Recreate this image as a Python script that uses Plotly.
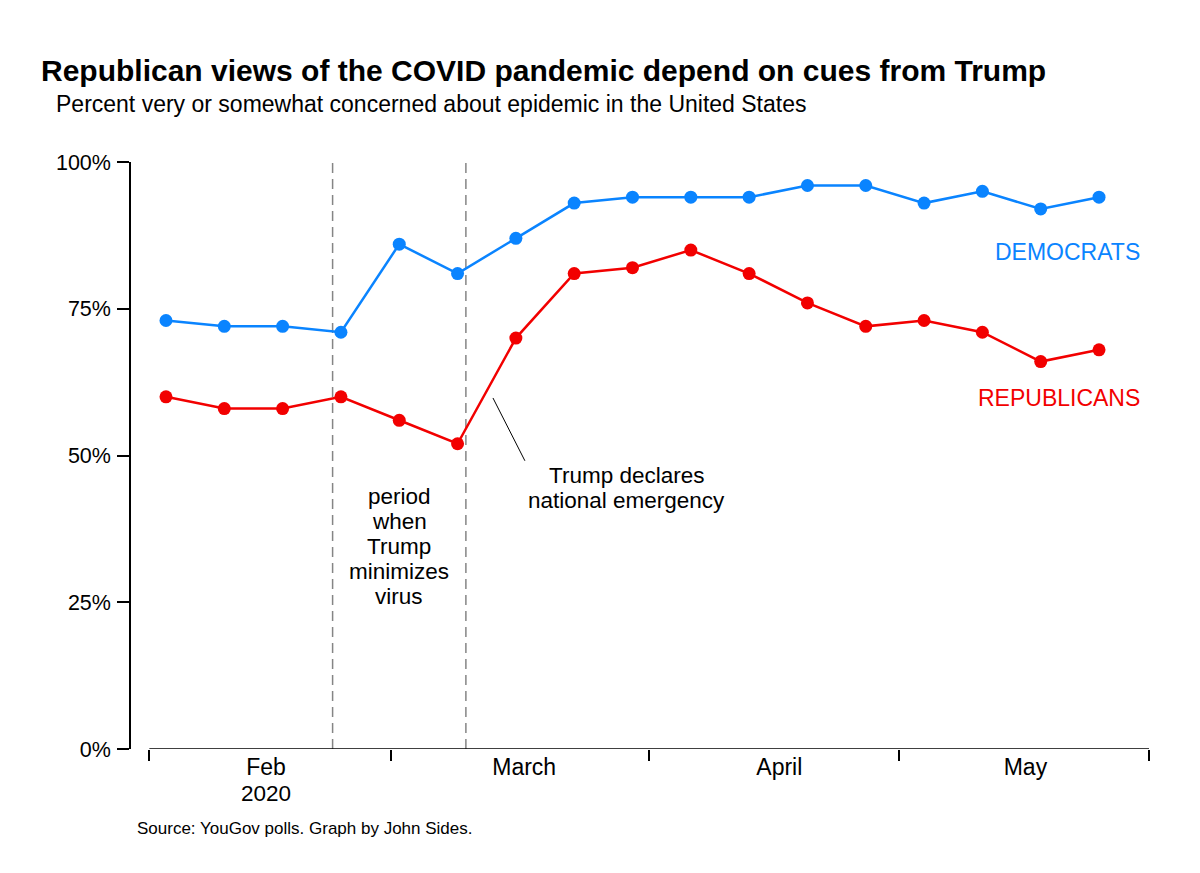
import plotly.graph_objects as go
import pandas as pd

dates = pd.date_range("2020-02-03", periods=17, freq="7D")
democrats = [73, 72, 72, 71, 86, 81, 87, 93, 94, 94, 94, 96, 96, 93, 95, 92, 94]
republicans = [60, 58, 58, 60, 56, 52, 70, 81, 82, 85, 81, 76, 72, 73, 71, 66, 68]

month_starts = ["2020-02-01", "2020-03-01", "2020-04-01", "2020-05-01", "2020-05-31"]
month_label_pos = ["2020-02-15", "2020-03-17", "2020-04-16 15:00", "2020-05-16 04:00"]
month_labels = ["Feb", "March", "April", "May"]
y_ticks = [0, 25, 50, 75, 100]
y_labels = ["0%", "25%", "50%", "75%", "100%"]
period_lines = ["2020-02-23", "2020-03-10"]

BLUE = "#0a84ff"
RED = "#f20000"
FONT = "Liberation Sans, Arial, Helvetica, sans-serif"

OFF = 8  # page body margin
W, H = 1200, 873
L, R, T, B = 131 - OFF, 1149 - OFF, 162 - OFF, 749 - OFF


def px_x(px):
    return (px - OFF - L) / (R - L)


def px_y(py):
    return (B - (py - OFF)) / (B - T)


fig = go.Figure()
fig.add_trace(go.Scatter(x=dates, y=democrats, mode="lines+markers",
                         line=dict(color=BLUE, width=2.5),
                         marker=dict(color=BLUE, size=13), showlegend=False))
fig.add_trace(go.Scatter(x=dates, y=republicans, mode="lines+markers",
                         line=dict(color=RED, width=2.5),
                         marker=dict(color=RED, size=13), showlegend=False))

for d in period_lines:
    fig.add_shape(type="line", xref="x", yref="y", x0=d, x1=d, y0=0, y1=100,
                  line=dict(color="#858585", width=1.5, dash="10px,6px"), layer="below")

# x axis baseline
fig.add_shape(type="line", xref="x", yref="y", x0=month_starts[0], x1=month_starts[-1],
              y0=0, y1=0, line=dict(color="black", width=1.5))

# annotation pointer
fig.add_shape(type="line", xref="x", yref="y", x0="2020-03-13 06:00", y0=59.8,
              x1="2020-03-17 02:00", y1=49.1, line=dict(color="black", width=1))


def text(x, y, s, size=23, color="black", xanchor="center", xref="x", yref="y"):
    fig.add_annotation(x=x, y=y, xref=xref, yref=yref, text=s, showarrow=False,
                       xanchor=xanchor, yanchor="middle",
                       font=dict(size=size, color=color, family=FONT))


# multi-line annotations with tight line spacing (as separate lines)
for i, s in enumerate(["Trump declares", "national emergency"]):
    text("2020-03-29 06:00", px_y(475 + 25 * i), s, size=22.5, yref="paper")
for i, s in enumerate(["period", "when", "Trump", "minimizes", "virus"]):
    text("2020-03-02", px_y(496 + 25 * i), s, size=22.5, yref="paper")

text(px_x(1142), px_y(252), "DEMOCRATS", color=BLUE, xanchor="right", xref="paper", yref="paper")
text(px_x(1142), px_y(398), "REPUBLICANS", color=RED, xanchor="right", xref="paper", yref="paper")

# second line of the Feb tick label
text(month_label_pos[0], px_y(793), "2020", size=22.5, yref="paper")

text(px_x(39), px_y(70), "<b>Republican views of the COVID pandemic depend on cues from Trump</b>",
     size=30, xanchor="left", xref="paper", yref="paper")
text(px_x(54), px_y(104), "Percent very or somewhat concerned about epidemic in the United States",
     size=23, xanchor="left", xref="paper", yref="paper")
text(px_x(135), px_y(828), "Source: YouGov polls. Graph by John Sides.",
     size=17, xanchor="left", xref="paper", yref="paper")

fig.update_layout(
    width=W, height=H,
    margin=dict(l=L, r=W - R, t=T, b=H - B, pad=0),
    plot_bgcolor="white", paper_bgcolor="white",
    font=dict(family=FONT, color="black", size=20),
    xaxis=dict(
        type="date",
        range=["2020-01-29 19:12", "2020-05-31"],
        tickmode="array", tickvals=month_label_pos, ticktext=month_labels,
        ticks="", showgrid=False, zeroline=False, showline=False,
        tickfont=dict(size=23), ticklabelstandoff=2,
        minor=dict(tickmode="array", tickvals=month_starts, ticks="outside",
                   ticklen=11, tickwidth=1.5, tickcolor="black", showgrid=False),
    ),
    yaxis=dict(
        range=[0, 100], tickmode="array", tickvals=y_ticks, ticktext=y_labels,
        ticks="outside", ticklen=12, tickwidth=1.5, tickcolor="black",
        showline=True, linecolor="black", linewidth=1.5,
        showgrid=False, zeroline=False, tickfont=dict(size=21.5),
        ticklabelstandoff=2,
    ),
)

fig.write_html("out.html")
